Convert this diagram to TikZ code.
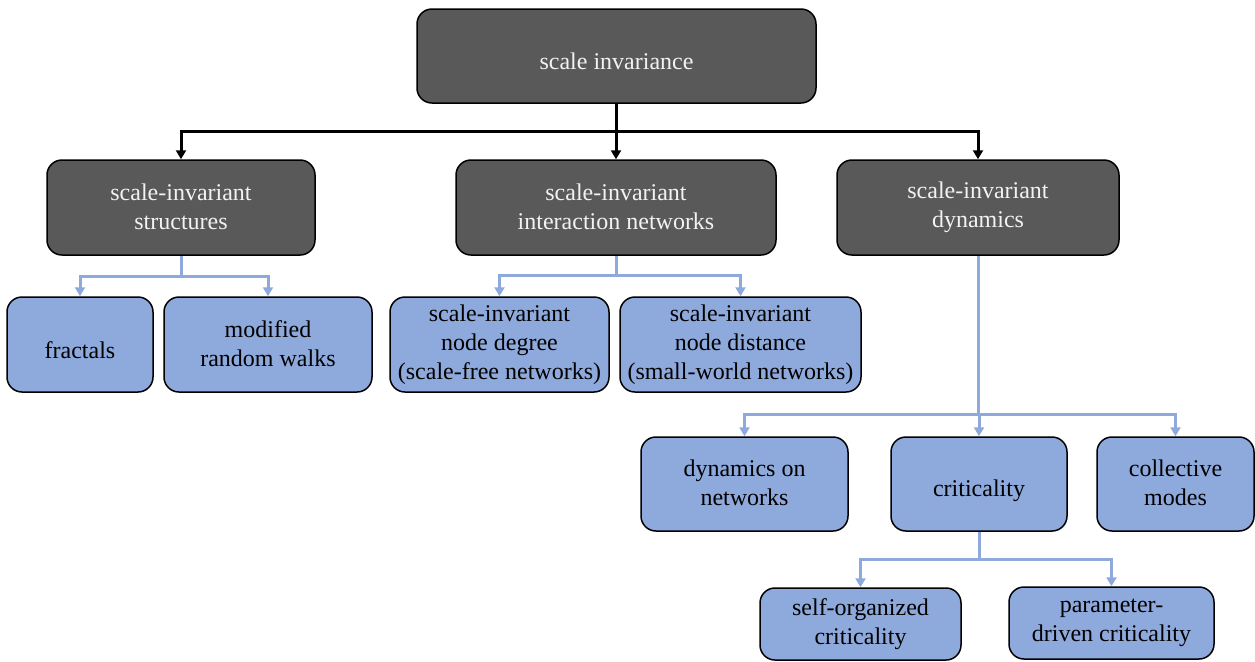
\documentclass[tikz,border=0pt]{standalone}
\usepackage{fontspec}
\setmainfont{Liberation Serif}
\usetikzlibrary{arrows.meta}
\definecolor{boxgray}{HTML}{595959}
\definecolor{boxblue}{HTML}{8EA9DB}
\begin{document}
\begin{tikzpicture}[x=0.5pt, y=-0.5pt,
        box/.style={draw=black, line width=0.75pt, rounded corners=7.5pt,
            align=center, inner sep=0pt, minimum height=47.5pt,
            font=\fontsize{12}{14.5}\selectfont,
            execute at begin node=\rule[-1.2pt]{0pt}{12.2pt},
            execute at end node=\rule[-1.2pt]{0pt}{12.2pt}},
        oneline/.style={execute at begin node=\rule[-1.2pt]{0pt}{16.2pt}},
        threeline/.style={execute at begin node=\rule[-1.2pt]{0pt}{17pt}},
        darkbox/.style={box, fill=boxgray, text=white!95!black},
        bluebox/.style={box, fill=boxblue, text=black},
        darr/.style={line width=1.5pt, -{Triangle[length=4.5pt,width=5pt]}},
        barr/.style={line width=1.5pt, draw=boxblue,
            -{Triangle[length=4.5pt,width=5pt]}}]
            \useasboundingbox (0,0) rectangle (1255,661);

            % level 0 and 1
            \node[darkbox, oneline, minimum width=199.5pt, minimum height=47pt] (top) at (616.5,56) {scale invariance};
            \node[darkbox, minimum width=134pt] (struct) at (181,207.5) {scale-invariant\\structures};
            \node[darkbox, minimum width=160pt] (netw) at (616,207.5) {scale-invariant\\interaction networks};
            \node[darkbox, minimum width=141pt] (dyn) at (978,207.5) {scale-invariant\\dynamics};

            % level 2
            \node[bluebox, oneline, minimum width=73pt] (fract) at (80,344.5) {fractals};
            \node[bluebox, minimum width=104pt] (walks) at (268,344.5) {modified\\random walks};
            \node[bluebox, threeline, minimum width=109.5pt] (degree) at (499.5,344.5) {scale-invariant\\node degree\\(scale-free networks)};
            \node[bluebox, threeline, minimum width=120.5pt] (dist) at (740.5,344.5) {scale-invariant\\node distance\\(small-world networks)};

            % level 3
            \node[bluebox, minimum width=103.5pt, minimum height=47pt] (dynnet) at (744.5,484) {dynamics on\\networks};
            \node[bluebox, oneline, minimum width=88pt, minimum height=47pt] (crit) at (979,484) {criticality};
            \node[bluebox, minimum width=78.5pt, minimum height=47pt] (modes) at (1175.5,484) {collective\\modes};

            % level 4
            \node[bluebox, minimum width=100.5pt, minimum height=36pt] (soc) at (860.5,624) {self-organized\\criticality};
            \node[bluebox, minimum width=102.5pt, minimum height=36pt] (pdc) at (1111.5,623) {parameter-\\driven criticality};

            % branch points
            \coordinate (j0) at (616.5,131);
            \coordinate (j1) at (181,276);
            \coordinate (j2) at (616,275);
            \coordinate (j3) at (978,414);
            \coordinate (j4) at (979,559);

            \draw[line width=1.5pt] (top.south) -- (j0);
            \foreach \n in {struct,netw,dyn}
                \draw[darr] (j0) -| (\n.north);

            \draw[line width=1.5pt, boxblue] (struct.south) -- (j1);
            \foreach \n in {fract,walks}
                \draw[barr] (j1) -| (\n.north);

            \draw[line width=1.5pt, boxblue] (netw.south) -- (j2);
            \foreach \n in {degree,dist}
                \draw[barr] (j2) -| (\n.north);

            \draw[line width=1.5pt, boxblue] (dyn.south) -- (j3);
            \foreach \n in {dynnet,crit,modes}
                \draw[barr] (j3) -| (\n.north);

            \draw[line width=1.5pt, boxblue] (crit.south) -- (j4);
            \foreach \n in {soc,pdc}
                \draw[barr] (j4) -| (\n.north);
\end{tikzpicture}
\end{document}
